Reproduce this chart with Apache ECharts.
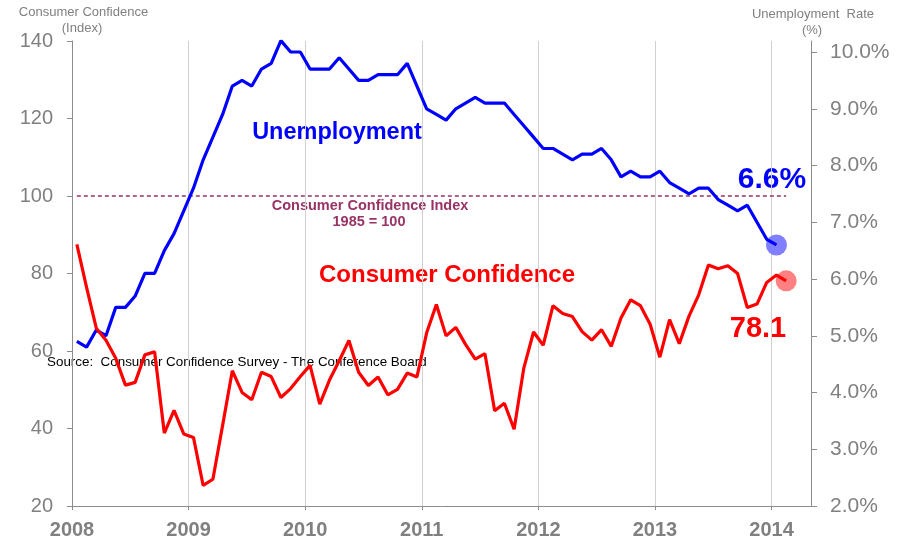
<!DOCTYPE html>
<html>
<head>
<meta charset="utf-8">
<script src="https://cdn.jsdelivr.net/npm/echarts@6/dist/echarts.min.js"></script>
<style>html,body{margin:0;padding:0;background:#fff}#c{width:902px;height:545px}</style>
</head>
<body>
<div id="c"></div>
<script>
// Monthly data, first month = Jan 2008
const startYear = 2008;
const yearTicks = [2008, 2009, 2010, 2011, 2012, 2013, 2014];
const leftTicks = [20, 40, 60, 80, 100, 120, 140];
const rightTicks = [2, 3, 4, 5, 6, 7, 8, 9, 10];

// Unemployment rate (%), Jan 2008 - Jan 2014
const unemployment = [
  4.9, 4.8, 5.1, 5.0, 5.5, 5.5, 5.7, 6.1, 6.1, 6.5, 6.8, 7.2,
  7.6, 8.1, 8.5, 8.9, 9.4, 9.5, 9.4, 9.7, 9.8, 10.2, 10.0, 10.0,
  9.7, 9.7, 9.7, 9.9, 9.7, 9.5, 9.5, 9.6, 9.6, 9.6, 9.8, 9.4,
  9.0, 8.9, 8.8, 9.0, 9.1, 9.2, 9.1, 9.1, 9.1, 8.9, 8.7, 8.5,
  8.3, 8.3, 8.2, 8.1, 8.2, 8.2, 8.3, 8.1, 7.8, 7.9, 7.8, 7.8,
  7.9, 7.7, 7.6, 7.5, 7.6, 7.6, 7.4, 7.3, 7.2, 7.3, 7.0, 6.7,
  6.6
];

// Consumer Confidence Index, Jan 2008 - Feb 2014
const confidence = [
  87.5, 76.4, 65.9, 62.8, 58.1, 51.2, 51.9, 59.0, 59.8, 38.8, 44.7, 38.6,
  37.7, 25.3, 26.9, 40.8, 54.9, 49.3, 47.4, 54.5, 53.4, 48.0, 50.3, 53.4,
  56.3, 46.3, 52.5, 57.5, 62.7, 54.5, 51.1, 53.3, 48.7, 50.1, 54.3, 53.3,
  64.7, 72.0, 63.9, 66.1, 61.7, 57.9, 59.3, 44.6, 46.5, 39.8, 55.6, 64.9,
  61.5, 71.7, 69.7, 68.9, 65.0, 62.8, 65.5, 61.2, 68.5, 73.2, 71.7, 66.9,
  58.4, 68.1, 61.9, 69.0, 74.5, 82.2, 81.2, 82.0, 80.0, 71.2, 72.1, 77.7,
  79.6, 78.1
];

const baseline = 100; // 1985 = 100

// month index -> decimal year at mid-month
const mx = i => startYear + (i + 0.5) / 12;
const unempData = unemployment.map((v, i) => [mx(i), v]);
const confData = confidence.map((v, i) => [mx(i), v]);
const lastU = unempData[unempData.length - 1];
const lastC = confData[confData.length - 1];
const baseData = [[confData[0][0], baseline], [lastC[0], baseline]];

const FONT = 'Liberation Sans, Arial, sans-serif';
const GRAY = '#808080';
const AXIS = '#8c8c8c';

const chart = echarts.init(document.getElementById('c'), null, {renderer: 'canvas'});
chart.setOption({
  animation: false,
  backgroundColor: '#fff',
  grid: {left: 72, right: 91, top: 41, bottom: 39, containLabel: false},
  xAxis: {
    type: 'value', min: 2008, max: 2014.338, interval: 1,
    axisLine: {show: true, lineStyle: {color: AXIS, width: 1}},
    axisTick: {show: true, length: 4, lineStyle: {color: AXIS}, customValues: yearTicks},
    axisLabel: {customValues: yearTicks, color: GRAY, fontSize: 20, fontWeight: 'bold', fontFamily: FONT, margin: 14,
      formatter: v => String(v)},
    splitLine: {show: true, lineStyle: {color: '#d0d0d0', width: 1}}
  },
  yAxis: [{
    type: 'value', min: 20, max: 140, interval: 20, position: 'left',
    axisLine: {show: true, lineStyle: {color: AXIS, width: 1}},
    axisTick: {show: true, length: 5, lineStyle: {color: AXIS}},
    axisLabel: {color: GRAY, fontSize: 20, fontFamily: FONT, margin: 19},
    splitLine: {show: false}
  }, {
    type: 'value', min: 2, max: 10.194, position: 'right',
    axisLine: {show: true, lineStyle: {color: AXIS, width: 1}},
    axisTick: {show: true, length: 6, lineStyle: {color: AXIS}, customValues: rightTicks},
    axisLabel: {customValues: rightTicks, color: GRAY, fontSize: 21, fontFamily: FONT, margin: 19,
      formatter: v => v.toFixed(1) + '%'},
    splitLine: {show: false}
  }],
  series: [
    {type: 'line', yAxisIndex: 0, data: baseData, symbol: 'none', silent: true,
      lineStyle: {color: '#993366', width: 1.3, type: [4, 3]}},
    {type: 'scatter', yAxisIndex: 1, data: [lastU], symbolSize: 21, silent: true,
      itemStyle: {color: '#7f7fff', opacity: 1}},
    {type: 'scatter', yAxisIndex: 0, data: [lastC], symbolSize: 21, silent: true,
      itemStyle: {color: '#ff8080', opacity: 1}},
    {type: 'line', name: 'Unemployment', yAxisIndex: 1, data: unempData, symbol: 'none',
      lineStyle: {color: '#0000ff', width: 3.2}},
    {type: 'line', name: 'Consumer Confidence', yAxisIndex: 0, data: confData, symbol: 'none',
      lineStyle: {color: '#ff0000', width: 3.2}}
  ],
  graphic: [
    {type: 'text', x: 83.5, y: 12, style: {text: 'Consumer Confidence', fill: GRAY, font: '13px ' + FONT, align: 'center', verticalAlign: 'middle'}},
    {type: 'text', x: 82, y: 28.5, style: {text: '(Index)', fill: GRAY, font: '13px ' + FONT, align: 'center', verticalAlign: 'middle'}},
    {type: 'text', x: 813, y: 14, style: {text: 'Unemployment  Rate', fill: GRAY, font: '13px ' + FONT, align: 'center', verticalAlign: 'middle'}},
    {type: 'text', x: 812, y: 30, style: {text: '(%)', fill: GRAY, font: '13px ' + FONT, align: 'center', verticalAlign: 'middle'}},
    {type: 'text', x: 337, y: 133, style: {text: 'Unemployment', fill: '#0000ff', font: 'bold 23.5px ' + FONT, align: 'center', verticalAlign: 'middle'}},
    {type: 'text', x: 447, y: 275, style: {text: 'Consumer Confidence', fill: '#ff0000', font: 'bold 24px ' + FONT, align: 'center', verticalAlign: 'middle'}},
    {type: 'text', x: 772, y: 180, style: {text: '6.6%', fill: '#0000ff', font: 'bold 30px ' + FONT, align: 'center', verticalAlign: 'middle'}},
    {type: 'text', x: 758, y: 329, style: {text: '78.1', fill: '#ff0000', font: 'bold 29px ' + FONT, align: 'center', verticalAlign: 'middle'}},
    {type: 'text', x: 370, y: 205.5, style: {text: 'Consumer Confidence Index', fill: '#993366', font: 'bold 14.5px ' + FONT, align: 'center', verticalAlign: 'middle'}},
    {type: 'text', x: 369, y: 222, style: {text: '1985 = 100', fill: '#993366', font: 'bold 14.5px ' + FONT, align: 'center', verticalAlign: 'middle'}},
    {type: 'text', x: 47, y: 362.7, style: {text: 'Source:  Consumer Confidence Survey - The Conference Board', fill: '#000', font: '13.4px ' + FONT, align: 'left', verticalAlign: 'middle'}}
  ]
});
</script>
</body>
</html>
